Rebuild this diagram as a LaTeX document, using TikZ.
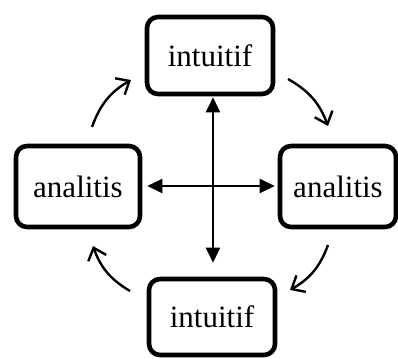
\documentclass[tikz,border=0pt]{standalone}
\usepackage{fontspec}
\setmainfont{Liberation Serif}
\usetikzlibrary{arrows.meta,calc}
\begin{document}
\begin{tikzpicture}[x=1pt,y=-1pt,
  box/.style={draw=black,line width=4.6pt,rounded corners=11pt,inner sep=0pt,
    font=\fontsize{31}{36}\selectfont},
  dbl/.style={line width=2.3pt,{Triangle[length=15pt,width=14pt]}-{Triangle[length=15pt,width=14pt]}},
  cyc/.style={line width=2.4pt,-{Straight Barb[length=11pt,width=19pt,line width=2.4pt]},bend left=20}]
\useasboundingbox (0,0) rectangle (398,358);
\node[box,minimum width=126pt,minimum height=77pt] (top) at (210,55.5) {intuitif};
\node[box,minimum width=124pt,minimum height=81pt] (left) at (78,186.5) {analitis};
\node[box,minimum width=116pt,minimum height=81pt] (right) at (338,186.5) {analitis};
\node[box,minimum width=126pt,minimum height=76pt] (bottom) at (212,317) {intuitif};
\coordinate (c) at (213,186);
\draw[dbl,shorten <=1pt,shorten >=14pt] (top.south -| c) -- (bottom.north -| c);
\draw[dbl,shorten <=5pt,shorten >=3pt] (left.east |- c) -- (right.west |- c);
\coordinate (tl1) at (92,127);
\coordinate (tl2) at (131,80);
\coordinate (tr1) at (288,79);
\coordinate (tr2) at (328,126);
\coordinate (br1) at (328,245);
\coordinate (br2) at (290,290);
\coordinate (bl1) at (130,291);
\coordinate (bl2) at (93,246);
\draw[cyc] (tl1) to (tl2);
\draw[cyc] (tr1) to (tr2);
\draw[cyc] (br1) to (br2);
\draw[cyc] (bl1) to (bl2);
\end{tikzpicture}
\end{document}
